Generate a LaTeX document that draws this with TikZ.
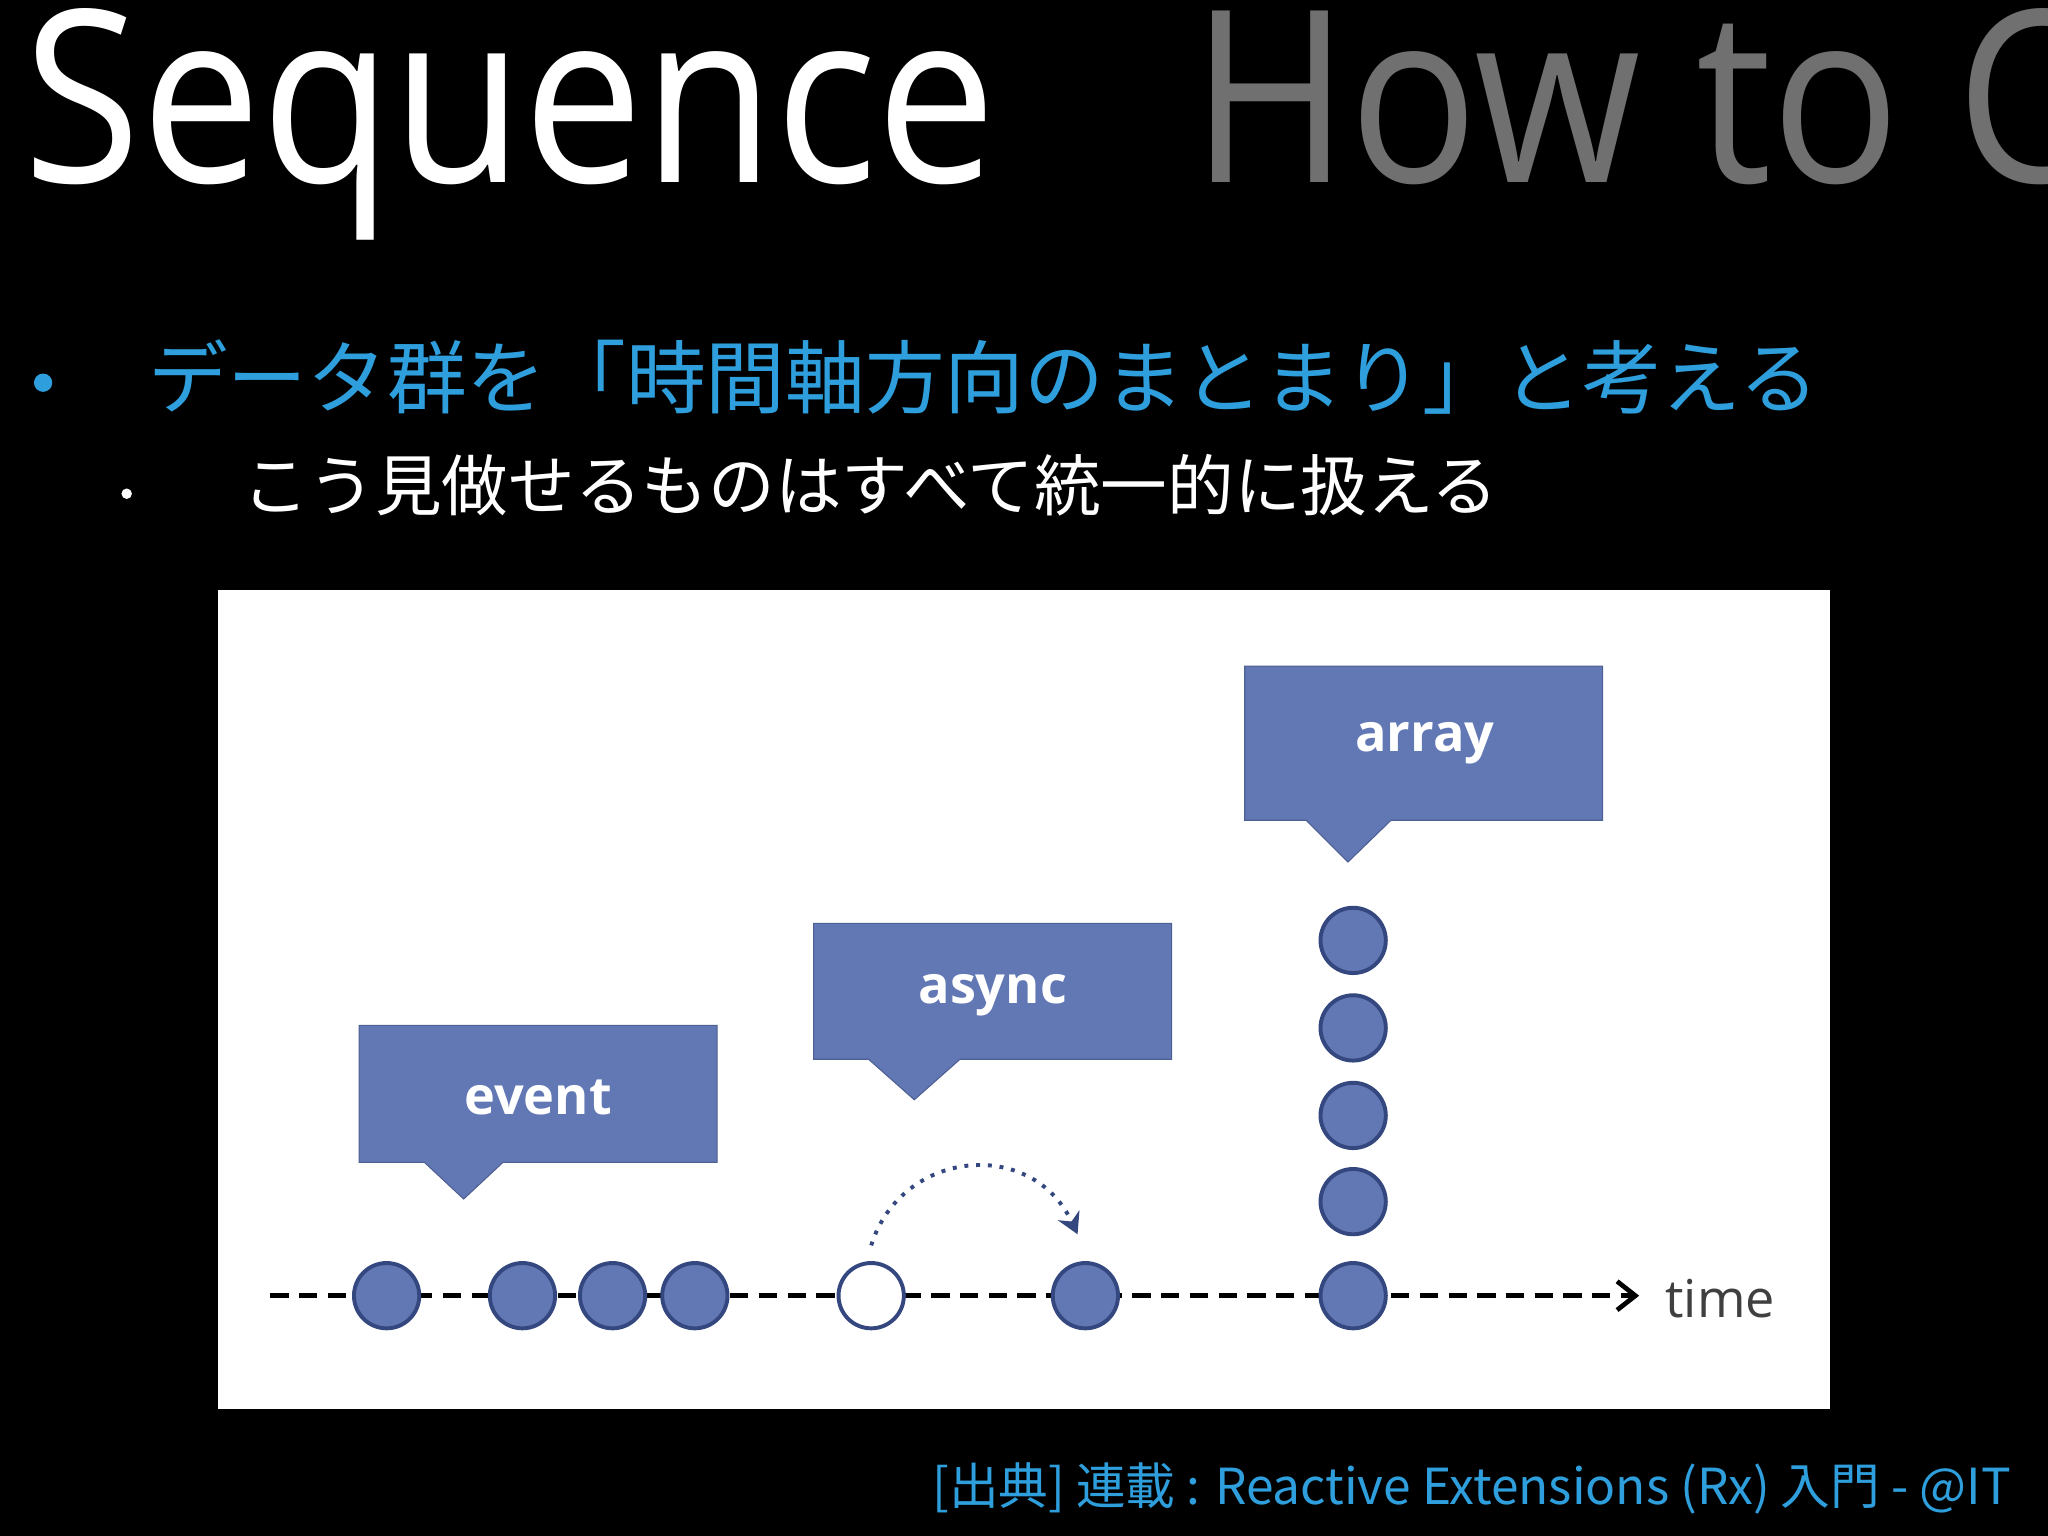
\documentclass[tikz,border=0pt]{standalone}
\usepackage{fontspec}
\setmainfont{Open Sans}
\newfontfamily\cjk{Noto Sans CJK JP}
\usetikzlibrary{arrows.meta}
\definecolor{rxblue}{HTML}{6278B5}
\definecolor{rxdark}{HTML}{34477F}
\definecolor{titlegray}{HTML}{707070}
\definecolor{accent}{HTML}{2E9FDC}
\begin{document}
\begin{tikzpicture}[x=0.5pt,y=-0.5pt,
  callout/.style={fill=rxblue,draw=rxblue!80!black},
  lbl/.style={text=white,font=\fontsize{20}{24}\selectfont\bfseries},
  dot/.style={circle,draw=rxdark,line width=1.5pt,fill=rxblue,minimum size=25pt,inner sep=0pt},
  hollow/.style={dot,fill=white}]
\fill[black] (0,0) rectangle (1568,1176);
\useasboundingbox (0,0) rectangle (1568,1176);
\begin{scope}
\clip (0,0) rectangle (1568,1176);
\node[anchor=base west,inner sep=0,text=white,xscale=0.89,font=\fontsize{92}{100}\selectfont] (t1) at (18,140) {Sequence};
\node[anchor=base west,inner sep=0,text=titlegray,xscale=0.89,font=\fontsize{92}{100}\selectfont] (t2) at (912,140) {How to C};
\end{scope}
\fill[accent] (33,293) circle (7);
\node[anchor=base west,inner sep=0,text=accent,font=\cjk\fontsize{30.5}{34}\selectfont] (b1) at (113,312) {データ群を「時間軸方向のまとまり」と考える};
\fill[white] (97,378) circle (4);
\node[anchor=base west,inner sep=0,text=white,font=\cjk\fontsize{25.5}{30}\selectfont] (b2) at (185,391) {こう見做せるものはすべて統一的に扱える};
\fill[white] (167,452) rectangle (1401,1079);
% callouts
\path[callout] (275,785) -- (549,785) -- (549,890) -- (385,890) -- (355,918) -- (325,890) -- (275,890) -- cycle;
\node[lbl] (ev) at (412,840) {event};
\path[callout] (623,707) -- (897,707) -- (897,811) -- (735,811) -- (700,842) -- (665,811) -- (623,811) -- cycle;
\node[lbl] (as) at (760,762) {async};
\path[callout] (953,510) -- (1227,510) -- (1227,628) -- (1065,628) -- (1032,660) -- (1000,628) -- (953,628) -- cycle;
\node[lbl] (ar) at (1091,569) {array};
% timeline
\coordinate (ts) at (207,992);
\coordinate (te) at (1255,992);
\draw[dashed,line width=1.8pt,dash pattern=on 7pt off 4pt,-{Straight Barb[length=7pt,width=11pt]}] (ts) -- (te);
\node[anchor=west,text=black!75,font=\fontsize{20}{24}\selectfont] (tm) at (1268,994) {time};
\foreach \n/\x in {a/296,b/400,c/469,d/532,f/831,g/1036}
  \node[dot] (\n) at (\x,992) {};
\node[hollow] (e) at (667,992) {};
\foreach \n/\y in {h/920,i/854,j/787,k/720}
  \node[dot] (\n) at (1036,\y) {};
\draw[rxdark,line width=1.5pt,dash pattern=on 1.5pt off 3pt,-{Stealth[length=8pt,width=9pt]}]
  (e.north) ++(0,-12) .. controls (690,880) and (790,870) .. (825,945);
\node[anchor=base east,inner sep=0,text=accent,font=\cjk\fontsize{19}{22}\selectfont] (src) at (1540,1152) {[出典] 連載 : Reactive Extensions (Rx) 入門 - @IT};
\end{tikzpicture}
\end{document}
